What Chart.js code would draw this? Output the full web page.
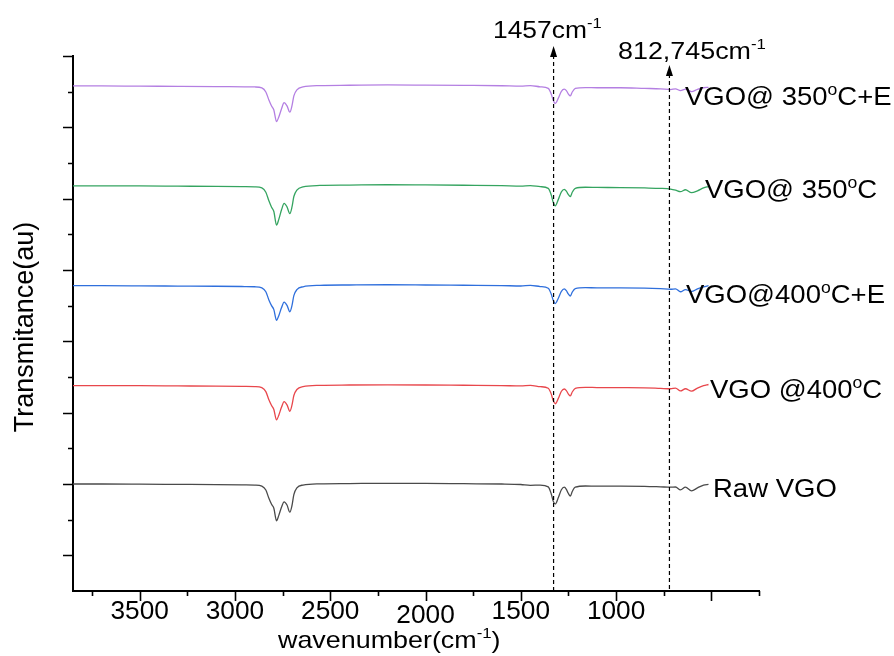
<!DOCTYPE html>
<html><head><meta charset="utf-8">
<script src="https://cdn.jsdelivr.net/npm/chart.js@4.4.1/dist/chart.umd.min.js"></script>
<style>html,body{margin:0;padding:0;background:#fff}#wrap{width:894px;height:656px}</style>
</head><body><div id="wrap"><canvas id="c" width="894" height="656"></canvas></div>
<script>
// ---------- data ----------
const wavenumbers = [3850,3700,3500,3300,3100,2950,2896,2859,2838,2822,2808,2796,2782,2770,2756,2742,2727,2712,2701,2691,2675,2643,2554,2400,2200,2000,1800,1600,1500,1450,1398,1356,1340,1330,1319,1303,1287,1272,1261,1251,1240,1230,1214,1161,1100,977,850,767,714,688,662,636,604,573,541,515];

const vgo350E = [708,708,707.7,707.5,707.2,706.8,706.6,705.2,699.6,688.4,680,674.4,658,664.6,675.8,684.6,680,671.2,680,694,702.4,706.6,708.5,709,709.5,709.2,708.8,708.3,707.8,708.5,706.8,704.7,696.5,688,683.5,691,700.5,703.5,701.5,697,694,699.5,704.5,705.8,705.5,705.5,704.6,704,703,704,701.5,703.5,700,703.2,705.5,706];
const vgo350 = [568,568,567.8,567.5,567.2,566.8,566.5,565,559,547,538,532,513,521,534,543.5,538.5,529,538,553,562,566.5,568.5,569,569.5,569.2,568.8,568.3,567.6,568.4,566.8,564.5,555,545,540,549,559.5,563,560.5,556,553,559,564.5,566,565.8,565.5,565,564.5,563.5,562,559.8,562.5,558.5,561,565,567];
const vgo400E = [428,428,427.8,427.5,427.2,426.8,426.5,425,419.5,408,400,394.5,379.5,386,397,405,400.5,391.5,400,414,422.5,426.5,428.5,429,429.3,429,428.6,428.2,427.6,428.5,426.8,424.5,416,407.5,403,410.5,420,423.5,421,416.5,413.5,419,424,425.2,425,425,424.6,423.8,423,423.5,419.5,422.5,420,423.5,426.5,428];
const vgo400 = [288,288,287.8,287.5,287.2,286.8,286.5,285,279.5,268,260,254.5,240,246.5,257.5,265.5,261,252,260.5,274,282.5,286.5,288.3,288.8,289,288.8,288.4,288,287.5,288.3,286.5,284.3,276,267,262.5,270,280,283.2,281,276.5,273.5,279,284,285.5,285.2,285,284.8,284,283.5,284.5,280.5,283.5,280.2,284.5,288,289.5];
const rawVGO = [150,150,149.8,149.5,149.2,148.8,148.5,147,141.5,130,121.5,116,98.5,106,117.5,125,120.5,110.5,119.5,135,144.5,148.5,150.2,150.6,151,150.8,150.4,150,149.3,148.2,148.5,146,136,126,122,131,142,145.5,142.5,137,133,139.5,145.5,147.2,147,147,146.7,146,145.5,145.8,141.8,145.5,140.5,144.5,148.5,149.5];

// series labels as [normal, superscript, normal] parts
const seriesLabels = [
  ['VGO@ 350','o','C+E'],
  ['VGO@ 350','o','C'],
  ['VGO@400','o','C+E'],
  ['VGO @400','o','C'],
  ['Raw VGO','','']
];
const seriesColors = ['#b47fe2','#35a460','#2f6fdc','#e8474c','#4a4a4a'];

const xTickValues = [3500,3000,2500,2000,1500,1000,500];
const xTickLabels = ['3500','3000','2500','2000','1500','1000',''];
const xMinorTicks = [3750,3250,2750,2250,1750,1250,750,250];
const yMajorTicks = [50,150,250,350,450,550,650,750];
const yMinorTicks = [100,200,300,400,500,600,700];

const markerWavenumbers = [1328, 720];
const markerLabels = [['1457cm','-1'], ['812,745cm','-1']];
const xTitle = ['wavenumber(cm','-1',')'];
const yTitle = 'Transmitance(au)';

// ---------- chart ----------
const FONT = '"Liberation Sans", Arial, sans-serif';
const allSeries = [vgo350E, vgo350, vgo400E, vgo400, rawVGO];

const datasets = allSeries.map((s, i) => ({
  label: seriesLabels[i].join(''),
  data: wavenumbers.map((w, k) => ({x: w, y: s[k]})),
  borderColor: seriesColors[i],
  borderWidth: 1.3,
  pointRadius: 0,
  fill: false,
  cubicInterpolationMode: 'monotone'
}));

function richText(ctx, parts, x, y, size, sx, align) {
  ctx.save();
  ctx.translate(x, y);
  ctx.scale(sx, 1);
  ctx.textBaseline = 'alphabetic';
  ctx.textAlign = 'left';
  let total = 0;
  const widths = parts.map((p, i) => {
    ctx.font = (i % 2 ? Math.round(size * 0.62) : size) + 'px ' + FONT;
    return ctx.measureText(p).width;
  });
  widths.forEach(w => total += w);
  let cx = align === 'center' ? -total / 2 : 0;
  parts.forEach((p, i) => {
    const sup = i % 2 === 1;
    ctx.font = (sup ? Math.round(size * 0.62) : size) + 'px ' + FONT;
    ctx.fillText(p, cx, sup ? -size * 0.42 : 0);
    cx += widths[i];
  });
  ctx.restore();
}

const overlay = {
  id: 'overlay',
  afterDraw(chart) {
    const {ctx, chartArea: a, scales: {x, y}} = chart;
    ctx.save();
    ctx.strokeStyle = '#000';
    ctx.fillStyle = '#000';
    ctx.lineWidth = 1.6;
    ctx.beginPath();
    xTickValues.forEach(v => { const px = Math.round(x.getPixelForValue(v)) + 0.5; ctx.moveTo(px, a.bottom); ctx.lineTo(px, a.bottom + 10); });
    xMinorTicks.forEach(v => { const px = Math.round(x.getPixelForValue(v)) + 0.5; ctx.moveTo(px, a.bottom); ctx.lineTo(px, a.bottom + 5); });
    yMajorTicks.forEach(v => { const py = Math.round(y.getPixelForValue(v)) + 0.5; ctx.moveTo(a.left, py); ctx.lineTo(a.left - 10, py); });
    yMinorTicks.forEach(v => { const py = Math.round(y.getPixelForValue(v)) + 0.5; ctx.moveTo(a.left, py); ctx.lineTo(a.left - 5, py); });
    ctx.stroke();

    xTickValues.forEach((v, i) => {
      if (!xTickLabels[i]) return;
      richText(ctx, [xTickLabels[i]], x.getPixelForValue(v), a.bottom + 28 + (v === 2000 ? 4 : 0), 25, 1.05, 'center');
    });
    richText(ctx, xTitle, 278, 648, 24, 1.12, 'left');
    ctx.save();
    ctx.translate(33, 327);
    ctx.rotate(-Math.PI / 2);
    ctx.font = '27px ' + FONT;
    ctx.textAlign = 'center';
    ctx.textBaseline = 'alphabetic';
    ctx.fillText(yTitle, 0, 0);
    ctx.restore();

    const tips = [46, 65];
    markerWavenumbers.forEach((w, i) => {
      const px = x.getPixelForValue(w);
      ctx.save();
      ctx.lineWidth = 1.2;
      ctx.setLineDash([4, 3]);
      ctx.beginPath();
      ctx.moveTo(px, tips[i] + 9);
      ctx.lineTo(px, a.bottom);
      ctx.stroke();
      ctx.restore();
      ctx.beginPath();
      ctx.moveTo(px, tips[i]);
      ctx.lineTo(px - 3.5, tips[i] + 11);
      ctx.lineTo(px + 3.5, tips[i] + 11);
      ctx.closePath();
      ctx.fill();
    });
    richText(ctx, markerLabels[0], 493, 38, 24, 1.1, 'left');
    richText(ctx, markerLabels[1], 618, 59, 24, 1.12, 'left');

    const labelPos = [[685, 105], [705, 198], [686, 303], [710, 398], [713, 497]];
    seriesLabels.forEach((parts, i) => {
      richText(ctx, parts, labelPos[i][0], labelPos[i][1], 25, 1.1, 'left');
    });
    ctx.restore();
  }
};

new Chart(document.getElementById('c'), {
  type: 'line',
  data: {datasets},
  options: {
    responsive: false,
    animation: false,
    devicePixelRatio: 1,
    layout: {padding: {left: 73, right: 135, top: 56, bottom: 65}},
    plugins: {legend: {display: false}, tooltip: {enabled: false}},
    scales: {
      x: {
        type: 'linear', reverse: true, min: 250, max: 3850,
        ticks: {display: false},
        grid: {display: false, drawTicks: false},
        border: {display: true, color: '#000', width: 2}
      },
      y: {
        type: 'linear', min: 0, max: 750,
        ticks: {display: false},
        grid: {display: false, drawTicks: false},
        border: {display: true, color: '#000', width: 2}
      }
    }
  },
  plugins: [overlay]
});
</script>
</body></html>
